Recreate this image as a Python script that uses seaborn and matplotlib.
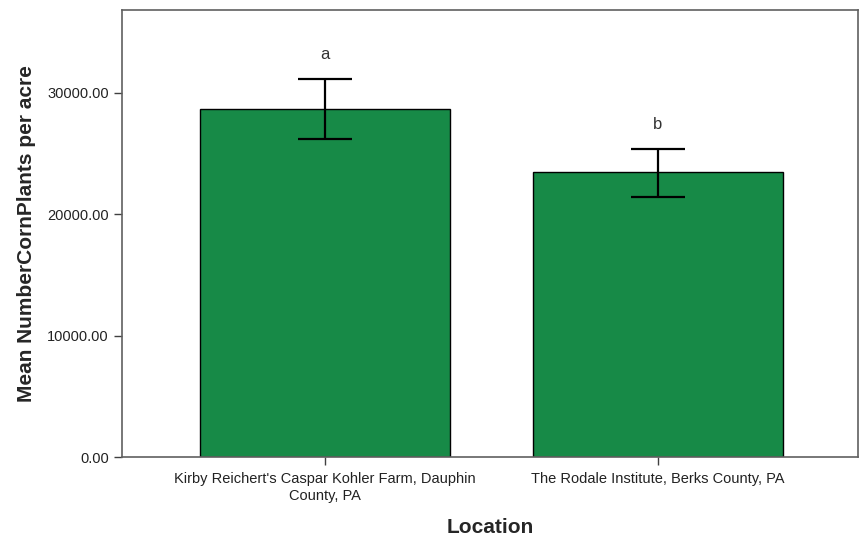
import numpy as np
import pandas as pd
import seaborn as sns
import matplotlib
matplotlib.use("Agg")
import matplotlib.pyplot as plt

# data
locations = ["Kirby Reichert's Caspar Kohler Farm, Dauphin\nCounty, PA",
             "The Rodale Institute, Berks County, PA"]
means = [28690, 23490]
err_low = [26200, 21430]
err_high = [31160, 25390]
letters = ["a", "b"]

df = pd.DataFrame({"Location": locations, "Mean": means})

sns.set_style("white")
plt.rcParams['font.family'] = ['Liberation Sans', 'DejaVu Sans']

fig = plt.figure(figsize=(8.67, 5.41), dpi=100)
ax = fig.add_axes([0.1407, 0.155, 0.8487, 0.8265])

sns.barplot(data=df, x="Location", y="Mean", color="#178A47", saturation=1,
            edgecolor="black", linewidth=1.0, width=0.75, ax=ax)

yerr = [np.array(means) - np.array(err_low), np.array(err_high) - np.array(means)]
ax.errorbar(x=np.arange(len(means)), y=means, yerr=yerr, fmt="none",
            ecolor="black", elinewidth=1.6, capsize=19.5, capthick=1.6)

# significance letters
for i, (top, lab) in enumerate(zip(err_high, letters)):
    ax.text(i, top + 1950, lab, ha="center", va="center", fontsize=12, color="#333333")

ax.set_xlim(-0.61, 1.60)
ax.set_ylim(0, 36800)
ax.set_yticks([0, 10000, 20000, 30000])
ax.set_yticklabels([f"{v:.2f}" for v in [0, 10000, 20000, 30000]])

for s in ax.spines.values():
    s.set_color("#606060")
    s.set_linewidth(1.2)

ax.tick_params(axis="both", direction="out", length=6, width=1, color="#404040",
               labelsize=10.5, labelcolor="#222222", bottom=True, left=True)
ax.tick_params(axis="x", pad=5)
ax.set_xlabel("Location", fontsize=15, fontweight="bold", labelpad=11)
ax.set_ylabel("Mean NumberCornPlants per acre", fontsize=15, fontweight="bold", labelpad=8)

fig.savefig("out.png", dpi=100)
